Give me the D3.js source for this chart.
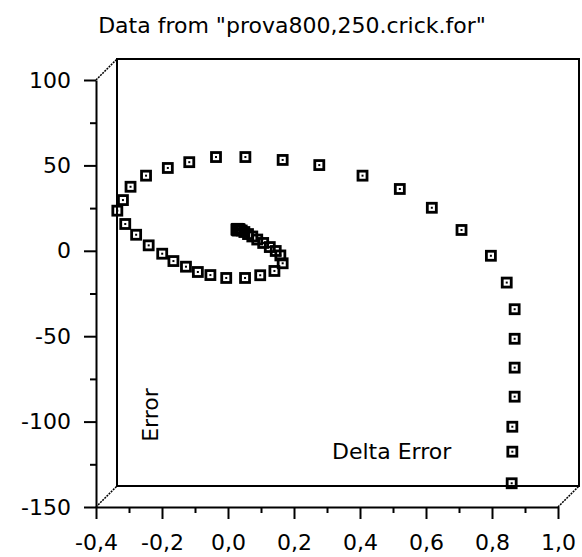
<!DOCTYPE html>
<html>
<head>
<meta charset="utf-8">
<script src="https://cdn.jsdelivr.net/npm/d3@7"></script>
<style>
  body { margin: 0; background: #fff; }
  text { font-family: "DejaVu Sans", sans-serif; fill: #000; }
</style>
</head>
<body>
<div id="chart"></div>
<script>
// values
var xTicks = [-0.4, -0.2, 0.0, 0.2, 0.4, 0.6, 0.8, 1.0];
var xMinor = [-0.3, -0.1, 0.1, 0.3, 0.5, 0.7, 0.9];
var yTicks = [100, 50, 0, -50, -100, -150];
var yMinor = [75, 25, -25, -75, -125];

var deltaError = [0.796, 0.798, 0.798, 0.805, 0.805, 0.805, 0.805, 0.781, 0.733, 0.644,
    0.554, 0.457, 0.344, 0.213, 0.102, -0.011, -0.100, -0.181, -0.246, -0.312,
    -0.359, -0.382, -0.399, -0.375, -0.342, -0.304, -0.263, -0.229, -0.191, -0.155,
    -0.117, -0.069, -0.012, 0.034, 0.077, 0.102, 0.095, 0.081, 0.063, 0.043,
    0.025, 0.010, -0.003, -0.014, -0.022, -0.028, -0.032, -0.035, -0.037, -0.038,
    -0.036, -0.034, -0.031, -0.030, -0.031];
var error = [-148.4, -129.9, -115.3, -97.7, -80.7, -63.8, -46.5, -30.9, -15.2, -0.1,
    12.9, 23.9, 31.7, 37.9, 40.9, 42.6, 42.6, 39.6, 36.2, 31.7,
    25.2, 17.4, 11.2, 3.4, -2.9, -9.1, -14.0, -18.3, -21.6, -24.7,
    -26.5, -28.2, -28.2, -26.6, -24.1, -19.6, -15.0, -12.4, -10.1, -7.7,
    -5.7, -3.9, -2.5, -1.3, -0.4, 0.18, 0.47, 0.58, 0.47, 0.12,
    -0.23, -0.41, -0.23, 0.12, 0.47];

var width = 582, height = 557;
var depth = 21; // offset of the back wall

var svg = d3.select("#chart")
    .append("svg")
    .attr("width", width)
    .attr("height", height);

// front axes
var x = d3.scaleLinear().domain([-0.4, 1.0]).range([96, 558]);
var y = d3.scaleLinear().domain([-150, 100]).range([507, 80]);
// back wall, where the points sit
var xb = x.copy().range([96 + depth, 558 + depth]);
var yb = y.copy().range([507 - depth, 80 - depth]);

var loc = d3.formatLocale({decimal: ",", thousands: ".", grouping: [3], currency: ["", ""], minus: "-"});
var fmt = loc.format(".1f");

// back wall box
svg.append("rect")
    .attr("x", xb(-0.4))
    .attr("y", yb(100))
    .attr("width", xb(1.0) - xb(-0.4))
    .attr("height", yb(-150) - yb(100))
    .attr("fill", "none")
    .attr("stroke", "#000")
    .attr("stroke-width", 2);

// dotted depth edges
var corners = [[-0.4, 100], [-0.4, -150], [1.0, -150]];
svg.selectAll(".edge")
    .data(corners)
    .join("line")
    .attr("class", "edge")
    .attr("x1", function(d) { return x(d[0]); })
    .attr("y1", function(d) { return y(d[1]); })
    .attr("x2", function(d) { return xb(d[0]); })
    .attr("y2", function(d) { return yb(d[1]); })
    .attr("stroke", "#000")
    .attr("stroke-width", 1.5)
    .attr("stroke-dasharray", "2,1");

// y axis
svg.append("g")
    .attr("transform", "translate(" + x(-0.4) + ",0)")
    .call(d3.axisLeft(y).tickValues(yTicks).tickSize(12).tickSizeOuter(0).tickPadding(13)
        .tickFormat(function(d) { return d < 0 ? "-" + Math.abs(d) : d; }));
svg.append("g")
    .attr("transform", "translate(" + x(-0.4) + ",0)")
    .call(d3.axisLeft(y).tickValues(yMinor).tickSize(6).tickSizeOuter(0).tickFormat(""))
    .select(".domain").remove();

// x axis
svg.append("g")
    .attr("transform", "translate(0," + y(-150) + ")")
    .call(d3.axisBottom(x).tickValues(xTicks).tickSize(12).tickSizeOuter(0).tickPadding(15)
        .tickFormat(fmt));
svg.append("g")
    .attr("transform", "translate(0," + y(-150) + ")")
    .call(d3.axisBottom(x).tickValues(xMinor).tickSize(6).tickSizeOuter(0).tickFormat(""))
    .select(".domain").remove();

svg.selectAll(".tick line").attr("stroke", "#000").attr("stroke-width", 2);
svg.selectAll(".domain").attr("stroke", "#000").attr("stroke-width", 2);
svg.selectAll(".tick text")
    .attr("font-size", "22px")
    .attr("font-family", "DejaVu Sans")
    .attr("fill", "#000");

// title and labels
svg.append("text")
    .attr("x", 292)
    .attr("y", 33)
    .attr("text-anchor", "middle")
    .attr("font-size", "22px")
    .text('Data from "prova800,250.crick.for"');

svg.append("text")
    .attr("transform", "translate(158,415) rotate(-90)")
    .attr("text-anchor", "middle")
    .attr("font-size", "22px")
    .text("Error");

svg.append("text")
    .attr("x", 332)
    .attr("y", 459)
    .attr("font-size", "22px")
    .text("Delta Error");

// points: square markers with a dot
var points = deltaError.map(function(d, i) { return {x: d, y: error[i]}; });

var marks = svg.selectAll(".pt")
    .data(points)
    .join("g")
    .attr("class", "pt")
    .attr("transform", function(d) { return "translate(" + xb(d.x) + "," + yb(d.y) + ")"; });

marks.append("rect")
    .attr("x", -4.5)
    .attr("y", -4.5)
    .attr("width", 9)
    .attr("height", 9)
    .attr("fill", "none")
    .attr("stroke", "#000")
    .attr("stroke-width", 2.8);

marks.append("rect")
    .attr("x", -1)
    .attr("y", -1)
    .attr("width", 2)
    .attr("height", 2)
    .attr("fill", "#000");
</script>
</body>
</html>
